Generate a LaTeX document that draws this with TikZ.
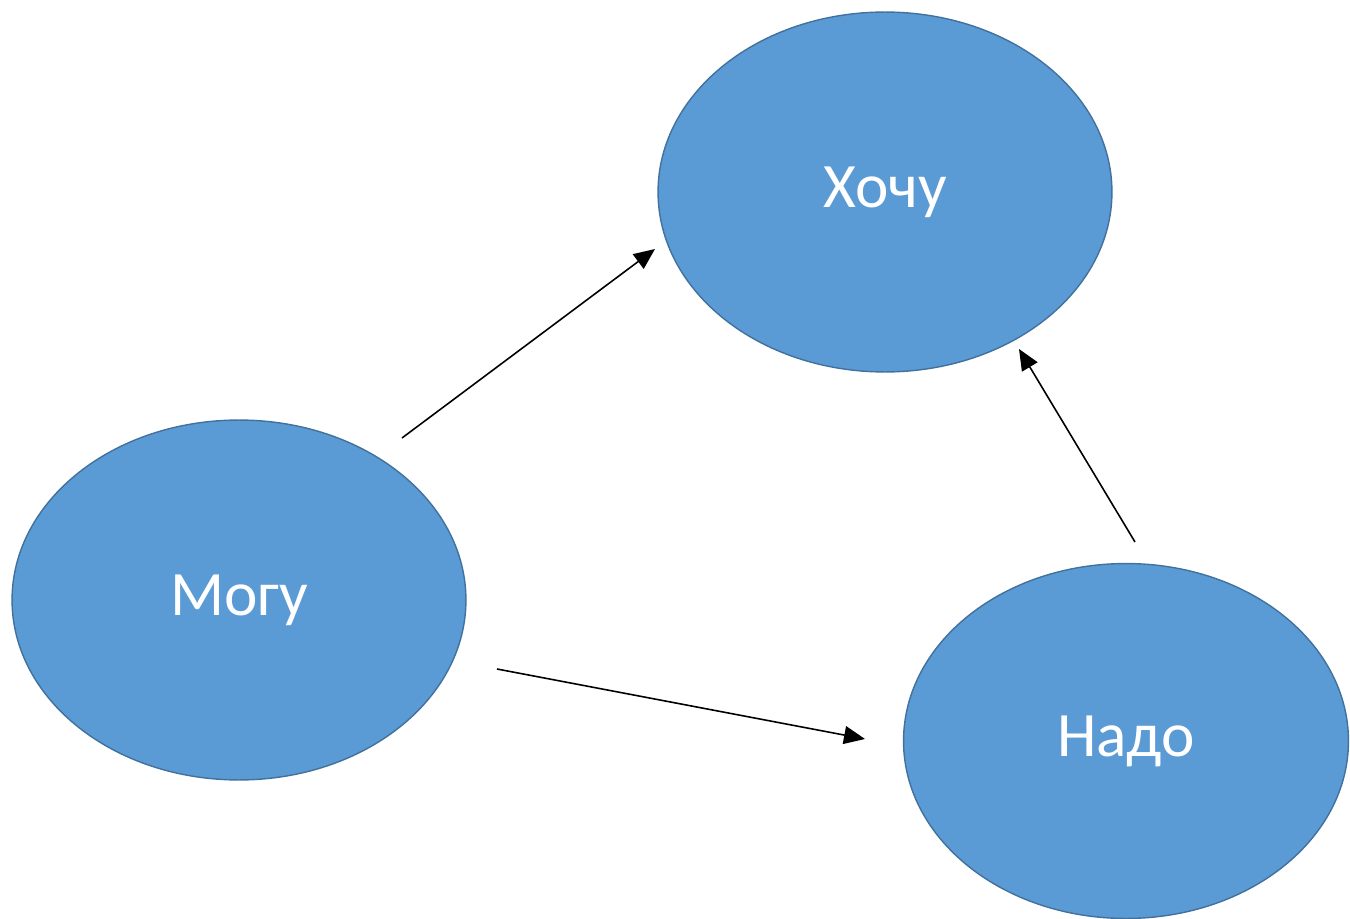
\documentclass[tikz,border=0pt]{standalone}
\usepackage{fontspec}
\setmainfont{Carlito}
\usetikzlibrary{shapes.geometric, arrows.meta}

\definecolor{ovalfill}{HTML}{5B9BD5}
\definecolor{ovaldraw}{HTML}{41719C}

\begin{document}
\begin{tikzpicture} [x=0.02cm, y=-0.02cm,
            oval/.style = {ellipse, draw=ovaldraw, fill=ovalfill,
                line width=0.8pt, inner sep=0pt,
                text=white, font=\fontsize{36}{40}\selectfont},
            link/.style = {-{Triangle[length=0.42cm, width=0.36cm]},
                line width=0.9pt, black}]

        \useasboundingbox (0,0) rectangle (1350,919);

        % Oval Hochu
        \node (hochu) [oval,
            minimum width = 9.08cm,
            minimum height = 7.2cm] at (885,192) {\raisebox{-0.08cm}{Хочу}};

        % Oval Mogu
        \node (mogu) [oval,
            minimum width = 9.08cm,
            minimum height = 7.2cm] at (239,600) {\raisebox{-0.08cm}{Могу}};

        % Oval Nado
        \node (nado) [oval,
            minimum width = 8.9cm,
            minimum height = 7.1cm] at (1126,741) {\raisebox{-0.08cm}{Надо}};

        % Arrow ends
        \coordinate (mogu-up) at (402,438);
        \coordinate (hochu-in) at (655,249);
        \coordinate (mogu-down) at (497,669);
        \coordinate (nado-in) at (865,739);
        \coordinate (nado-up) at (1135,542);
        \coordinate (hochu-low) at (1019,349);

        % Arrows
        \path [link]
            (mogu-up) edge (hochu-in)
            (mogu-down) edge (nado-in)
            (nado-up) edge (hochu-low)
            ;
        \end{tikzpicture}
\end{document}
